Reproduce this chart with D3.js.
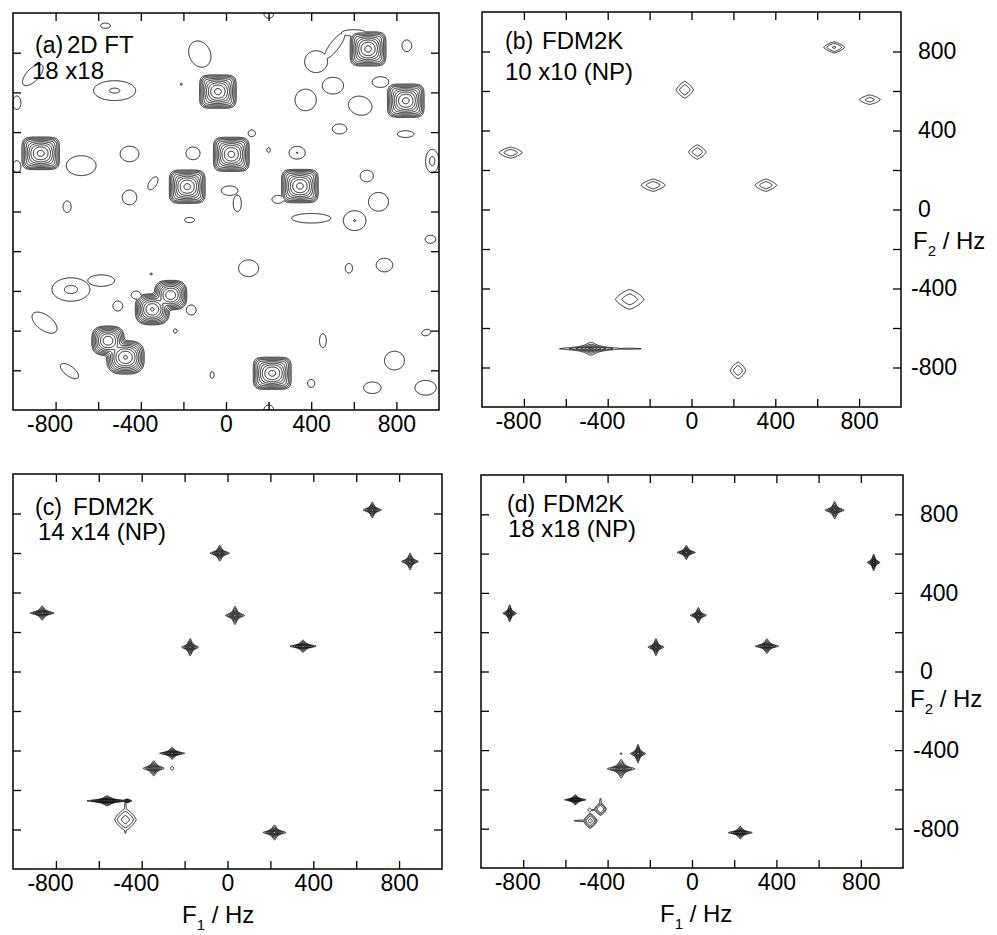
<!DOCTYPE html>
<html>
<head>
<meta charset="utf-8">
<script src="https://cdn.jsdelivr.net/npm/d3@7"></script>
<style>
  body { margin: 0; background: #fff; }
  svg { display: block; }
  text { font-family: "Liberation Sans", Arial, Helvetica, sans-serif; fill: #000; }
</style>
</head>
<body>
<svg id="chart" width="997" height="935"></svg>
<script>
// ---- axis values (Hz) ----
const hzDomain = [-1000, 1000];
const tickValues = [-800, -600, -400, -200, 0, 200, 400, 600, 800];
const tickLabels = [-800, -400, 0, 400, 800];

// ---- (a) 2D FT 18x18 ----
// main peaks: [F1, F2, halfWidthF1, halfWidthF2, height, squareness]
const ftPeaks = [
  [667, 819, 84, 86, 365, 5],
  [-38, 604, 86, 84, 365, 5],
  [844, 558, 86, 84, 365, 5],
  [-870, 293, 88, 82, 365, 5],
  [25, 288, 84, 86, 365, 5],
  [-182, 125, 84, 84, 365, 5],
  [347, 128, 86, 84, 365, 5],
  [217, -815, 89, 81, 365, 5],
  [-346, -493, 80, 78, 320, 3],
  [-260, -421, 76, 74, 240, 3],
  [-554, -651, 76, 74, 240, 3],
  [-472, -735, 88, 84, 320, 3]
];
// weak features (noise): [F1, F2, radiusF1, radiusF2, angle, height]
const ftNoise = [
  [-566, 936, 23, 13, 0, 0.5],
  [-123, 793, 50, 68, 20, 0.5],
  [-907, 688, 66, 30, 50, 0.5],
  [-523, 609, 99, 50, 0, 0.76],
  [-982, 548, 19, 34, 0, 0.5],
  [-210, 641, 5, 5, 0, 0.5],
  [423, 755, 54, 55, 0, 0.5],
  [510, 835, 78, 22, 55, 0.5],
  [600, 900, 58, 16, 0, 0.5],
  [849, 835, 23, 29, 0, 0.5],
  [502, 634, 50, 42, 0, 0.5],
  [725, 652, 39, 27, 0, 0.5],
  [374, 562, 50, 54, 0, 0.5],
  [630, 533, 56, 47, -20, 0.5],
  [533, 416, 34, 25, 0, 0.5],
  [843, 390, 39, 17, 0, 0.5],
  [121, 394, 17, 17, 0, 0.5],
  [-453, 290, 44, 39, 0, 0.5],
  [-155, 293, 33, 32, 0, 0.5],
  [200, 310, 8, 12, 0, 0.5],
  [334, 296, 38, 32, 0, 0.72],
  [968, 254, 31, 59, 0, 0.85],
  [-680, 231, 70, 50, 0, 0.5],
  [-982, 226, 19, 30, 0, 0.5],
  [-343, 142, 36, 18, 60, 0.5],
  [661, 179, 31, 29, 0, 0.5],
  [-453, 71, 34, 37, 0, 0.5],
  [17, 105, 39, 24, 0, 0.5],
  [53, 41, 19, 42, 0, 0.5],
  [-746, 24, 19, 29, 0, 0.5],
  [716, 49, 47, 47, 0, 0.5],
  [244, 61, 28, 20, 0, 0.5],
  [400, -34, 92, 24, 0, 0.5],
  [604, -46, 53, 50, 0, 0.72],
  [-171, -43, 23, 13, 0, 0.5],
  [960, -140, 25, 20, 0, 0.5],
  [106, -286, 47, 42, 0, 0.5],
  [577, -286, 17, 24, 0, 0.5],
  [744, -270, 39, 34, 0, 0.5],
  [-351, -315, 5, 5, 0, 0.5],
  [-728, -393, 89, 59, 0, 0.81],
  [-586, -348, 63, 29, 0, 0.5],
  [-508, -476, 23, 25, 0, 0.5],
  [-852, -560, 70, 37, -40, 0.5],
  [-163, -496, 23, 25, 0, 0.5],
  [-422, -421, 23, 20, 0, 0.5],
  [-238, -602, 9, 10, 0, 0.5],
  [455, -651, 16, 35, 0, 0.5],
  [940, -610, 22, 15, 20, 0.5],
  [791, -751, 47, 47, 0, 0.5],
  [-735, -804, 52, 24, -40, 0.5],
  [-65, -824, 9, 17, 0, 0.5],
  [400, -866, 17, 20, 0, 0.5],
  [687, -888, 41, 29, 0, 0.5],
  [937, -888, 50, 37, 0, 0.5],
  [201, 998, 23, 25, 0, 0.5],
  [201, -1000, 23, 25, 0, 0.5]
];

// ---- (b) FDM2K 10x10 (NP) ----
// diamonds: [F1, F2, halfWidthF1, halfWidthF2, height]
const fdm10Diamonds = [
  [681, 821, 50, 28, 4.2],
  [-32, 606, 41, 42, 3.0],
  [851, 556, 51, 24, 2.4],
  [-863, 288, 56, 28, 2.9],
  [28, 291, 42, 36, 2.9],
  [-183, 123, 58, 31, 2.9],
  [355, 123, 52, 31, 2.9],
  [-295, -455, 68, 50, 2.7],
  [222, -815, 37, 42, 2.9],
  [-300, -705, 60, 3, 1.3]
];
// stars: [F1, F2, armF1, armF2, height]
const fdm10Stars = [
  [-480, -705, 150, 32, 40]
];

// ---- (c) FDM2K 14x14 (NP) ----
const fdm14Stars = [
  [675, 818, 42, 40, 40],
  [-36, 599, 45, 40, 40],
  [851, 557, 39, 42, 40],
  [-864, 296, 56, 35, 40],
  [35, 284, 44, 46, 40],
  [-174, 123, 39, 44, 40],
  [352, 128, 61, 31, 40],
  [219, -815, 53, 38, 40],
  [-258, -414, 58, 30, 40],
  [-344, -490, 49, 38, 30],
  [-561, -655, 95, 25, 40],
  [-468, -655, 22, 9, 6]
];
const fdm14Diamonds = [
  [-476, -750, 50, 55, 3.0],
  [-476, -700, 5, 48, 1.3],
  [-476, -800, 4, 22, 1.3],
  [-500, -655, 40, 4, 1.3],
  [-258, -490, 8, 10, 1.3]
];

// ---- (d) FDM2K 18x18 (NP) ----
const fdm18Stars = [
  [676, 821, 45, 44, 45],
  [-27, 606, 43, 36, 45],
  [861, 555, 30, 43, 45],
  [-864, 296, 32, 44, 45],
  [30, 286, 38, 40, 45],
  [-171, 124, 37, 43, 45],
  [355, 129, 55, 37, 45],
  [229, -820, 57, 32, 45],
  [-256, -418, 36, 47, 45],
  [-336, -495, 65, 47, 45],
  [-553, -653, 51, 26, 45]
];
const fdm18Diamonds = [
  [-482, -760, 32, 38, 4.7],
  [-434, -700, 28, 32, 4.0],
  [-525, -760, 35, 4, 1.3],
  [-434, -665, 4, 22, 1.3],
  [-485, -705, 9, 10, 1.6],
  [-460, -705, 22, 3, 1.3],
  [-336, -418, 4, 5, 1.5]
];

// ---- peak shapes: value relative to the lowest contour level ----
const shapes = {
  // round near the top, rounded square at the base
  square: {
    val: (p, X, Y) => {
      const u = Math.abs(X - p[0]) / p[2], v = Math.abs(Y - p[1]) / p[3];
      const q = p[5];
      const d2 = Math.sqrt(u * u + v * v);
      const dq = Math.pow(Math.pow(u, q) + Math.pow(v, q), 1 / q);
      const w = Math.min(1, d2) ** 2;
      const s = d2 * (1 - w) + dq * w;
      return p[4] * Math.exp(-Math.log(p[4]) * s * s);
    },
    box: p => [2.2 * p[2], 2.2 * p[3]]
  },
  blob: {
    val: (p, X, Y) => {
      const a = p[4] * Math.PI / 180, dx = X - p[0], dy = Y - p[1];
      const xr = dx * Math.cos(a) + dy * Math.sin(a);
      const yr = -dx * Math.sin(a) + dy * Math.cos(a);
      const s2 = (xr / p[2]) ** 2 + (yr / p[3]) ** 2;
      return Math.exp(p[5] * (1 - s2));
    },
    box: p => { const r = Math.max(p[2], p[3]) * 1.05; return [r, r]; }
  },
  diamond: {
    val: (p, X, Y) => {
      const u = Math.abs(X - p[0]) / p[2], v = Math.abs(Y - p[1]) / p[3];
      const s = Math.pow(Math.pow(u, 1.3) + Math.pow(v, 1.3), 1 / 1.3);
      return Math.exp(Math.log(p[4]) * (1 - s * s));
    },
    box: p => [p[2] * 1.02, p[3] * 1.02]
  },
  star: {
    val: (p, X, Y) => {
      const k = Math.sqrt(p[4] - 1);
      const u = (X - p[0]) * k / p[2], v = (Y - p[1]) * k / p[3];
      return p[4] / ((1 + u * u) * (1 + v * v));
    },
    box: p => [p[2] * 1.02, p[3] * 1.02]
  }
};

const panels = [
  { x0: 13, y0: 13, w: 426, h: 397, ratio: 2.04, nLev: 10, lw: 0.9,
    layers: [["square", ftPeaks, "sum"], ["blob", ftNoise, "max"]],
    tag: "(a)", title: "2D FT", size: "18 x18",
    tagPos: [35, 53], titlePos: [67, 53], sizePos: [32, 79], rightLabels: false, f1: null, f2: null },
  { x0: 482, y0: 12, w: 419, h: 395, ratio: 2, nLev: 8, lw: 0.85,
    layers: [["diamond", fdm10Diamonds, "max"], ["star", fdm10Stars, "max"]],
    tag: "(b)", title: "FDM2K", size: "10 x10 (NP)",
    tagPos: [505, 49], titlePos: [542, 49], sizePos: [505, 80], rightLabels: true, f1: null, f2: [913, 249] },
  { x0: 13, y0: 474, w: 429, h: 395, ratio: 1.6, nLev: 10, lw: 0.9,
    layers: [["star", fdm14Stars, "max"], ["diamond", fdm14Diamonds, "max"]],
    tag: "(c)", title: "FDM2K", size: "14 x14 (NP)",
    tagPos: [35, 515], titlePos: [73, 515], sizePos: [38, 540], rightLabels: false, f1: [182, 923], f2: null },
  { x0: 481, y0: 475, w: 422, h: 393, ratio: 1.6, nLev: 10, lw: 0.9,
    layers: [["star", fdm18Stars, "max"], ["diamond", fdm18Diamonds, "max"]],
    tag: "(d)", title: "FDM2K", size: "18 x18 (NP)",
    tagPos: [507, 512], titlePos: [543, 512], sizePos: [508, 537], rightLabels: true, f1: [660, 922], f2: [910, 707] }
];

const svg = d3.select("#chart");
const STEP = 0.5;
const TICK = 8;
const labelFmt = d => tickLabels.includes(d) ? String(d) : "";

panels.forEach((P, pi) => {
  const xs = d3.scaleLinear().domain(hzDomain).range([P.x0, P.x0 + P.w]);
  const ys = d3.scaleLinear().domain(hzDomain).range([P.y0 + P.h, P.y0]);

  // sample the spectrum on a fine grid
  const n = Math.ceil(P.w / STEP), m = Math.ceil(P.h / STEP);
  const gx = d3.range(n).map(i => xs.invert(P.x0 + (i + 0.5) * STEP));
  const gy = d3.range(m).map(j => ys.invert(P.y0 + (j + 0.5) * STEP));
  const grid = new Float64Array(n * m);

  P.layers.forEach(([kind, list, mode]) => {
    const sh = shapes[kind];
    list.forEach(p => {
      const [bx, by] = sh.box(p);
      const i0 = Math.max(0, Math.floor((xs(p[0] - bx) - P.x0) / STEP - 1));
      const i1 = Math.min(n - 1, Math.ceil((xs(p[0] + bx) - P.x0) / STEP + 1));
      const j0 = Math.max(0, Math.floor((ys(p[1] + by) - P.y0) / STEP - 1));
      const j1 = Math.min(m - 1, Math.ceil((ys(p[1] - by) - P.y0) / STEP + 1));
      for (let j = j0; j <= j1; j++) {
        for (let i = i0; i <= i1; i++) {
          const v = sh.val(p, gx[i], gy[j]);
          const k = j * n + i;
          if (mode === "sum") grid[k] += v;
          else if (v > grid[k]) grid[k] = v;
        }
      }
    });
  });

  const levels = d3.range(P.nLev).map(k => Math.pow(P.ratio, k));
  const contours = d3.contours().size([n, m]).thresholds(levels)(grid);
  const toPx = d3.geoTransform({
    point(x, y) { this.stream.point(P.x0 + x * STEP, P.y0 + y * STEP); }
  });

  const clipId = "clip" + pi;
  svg.append("clipPath").attr("id", clipId)
    .append("rect").attr("x", P.x0).attr("y", P.y0).attr("width", P.w).attr("height", P.h);

  svg.append("g").attr("clip-path", `url(#${clipId})`)
    .selectAll("path")
    .data(contours)
    .join("path")
    .attr("d", d3.geoPath(toPx))
    .attr("fill", "none")
    .attr("stroke", "#000")
    .attr("stroke-width", P.lw)
    .attr("stroke-linejoin", "round");

  // axes with inward ticks on all four sides
  const styleAxis = g => {
    g.select(".domain").remove();
    g.attr("font-size", 23).attr("font-family", null);
    g.selectAll(".tick line").attr("stroke", "#000").attr("stroke-width", 1.3);
    g.selectAll(".tick text").attr("fill", "#000");
  };

  svg.append("g")
    .attr("transform", `translate(0,${P.y0 + P.h})`)
    .call(d3.axisBottom(xs).tickValues(tickValues).tickSize(-TICK).tickSizeOuter(0)
      .tickPadding(6).tickFormat(labelFmt))
    .call(styleAxis)
    .call(g => g.selectAll(".tick text").filter(d => d < 0).attr("dx", -6));

  svg.append("g")
    .attr("transform", `translate(0,${P.y0})`)
    .call(d3.axisTop(xs).tickValues(tickValues).tickSize(-TICK).tickSizeOuter(0).tickFormat(""))
    .call(styleAxis);

  svg.append("g")
    .attr("transform", `translate(${P.x0},0)`)
    .call(d3.axisLeft(ys).tickValues(tickValues).tickSize(-TICK).tickSizeOuter(0).tickFormat(""))
    .call(styleAxis);

  svg.append("g")
    .attr("transform", `translate(${P.x0 + P.w},0)`)
    .call(d3.axisRight(ys).tickValues(tickValues).tickSize(-TICK).tickSizeOuter(0)
      .tickPadding(17).tickFormat(P.rightLabels ? labelFmt : ""))
    .call(styleAxis)
    .call(g => g.selectAll(".tick text").filter(d => d < 0).attr("dx", -7));

  // frame
  svg.append("rect")
    .attr("x", P.x0).attr("y", P.y0).attr("width", P.w).attr("height", P.h)
    .attr("fill", "none").attr("stroke", "#000").attr("stroke-width", 1.5);

  // panel labels
  svg.append("text").attr("x", P.tagPos[0]).attr("y", P.tagPos[1])
    .attr("font-size", 23).text(P.tag);
  svg.append("text").attr("x", P.titlePos[0]).attr("y", P.titlePos[1])
    .attr("font-size", 24).text(P.title);
  svg.append("text").attr("x", P.sizePos[0]).attr("y", P.sizePos[1])
    .attr("font-size", 24).text(P.size);

  // axis titles
  const axisTitle = (pos, sub) => {
    const t = svg.append("text").attr("x", pos[0]).attr("y", pos[1]).attr("font-size", 24);
    t.append("tspan").text("F");
    t.append("tspan").attr("font-size", 15).attr("dy", 7).text(sub);
    t.append("tspan").attr("dy", -7).text(" / Hz");
  };
  if (P.f1) axisTitle(P.f1, "1");
  if (P.f2) axisTitle(P.f2, "2");
});
</script>
</body>
</html>
